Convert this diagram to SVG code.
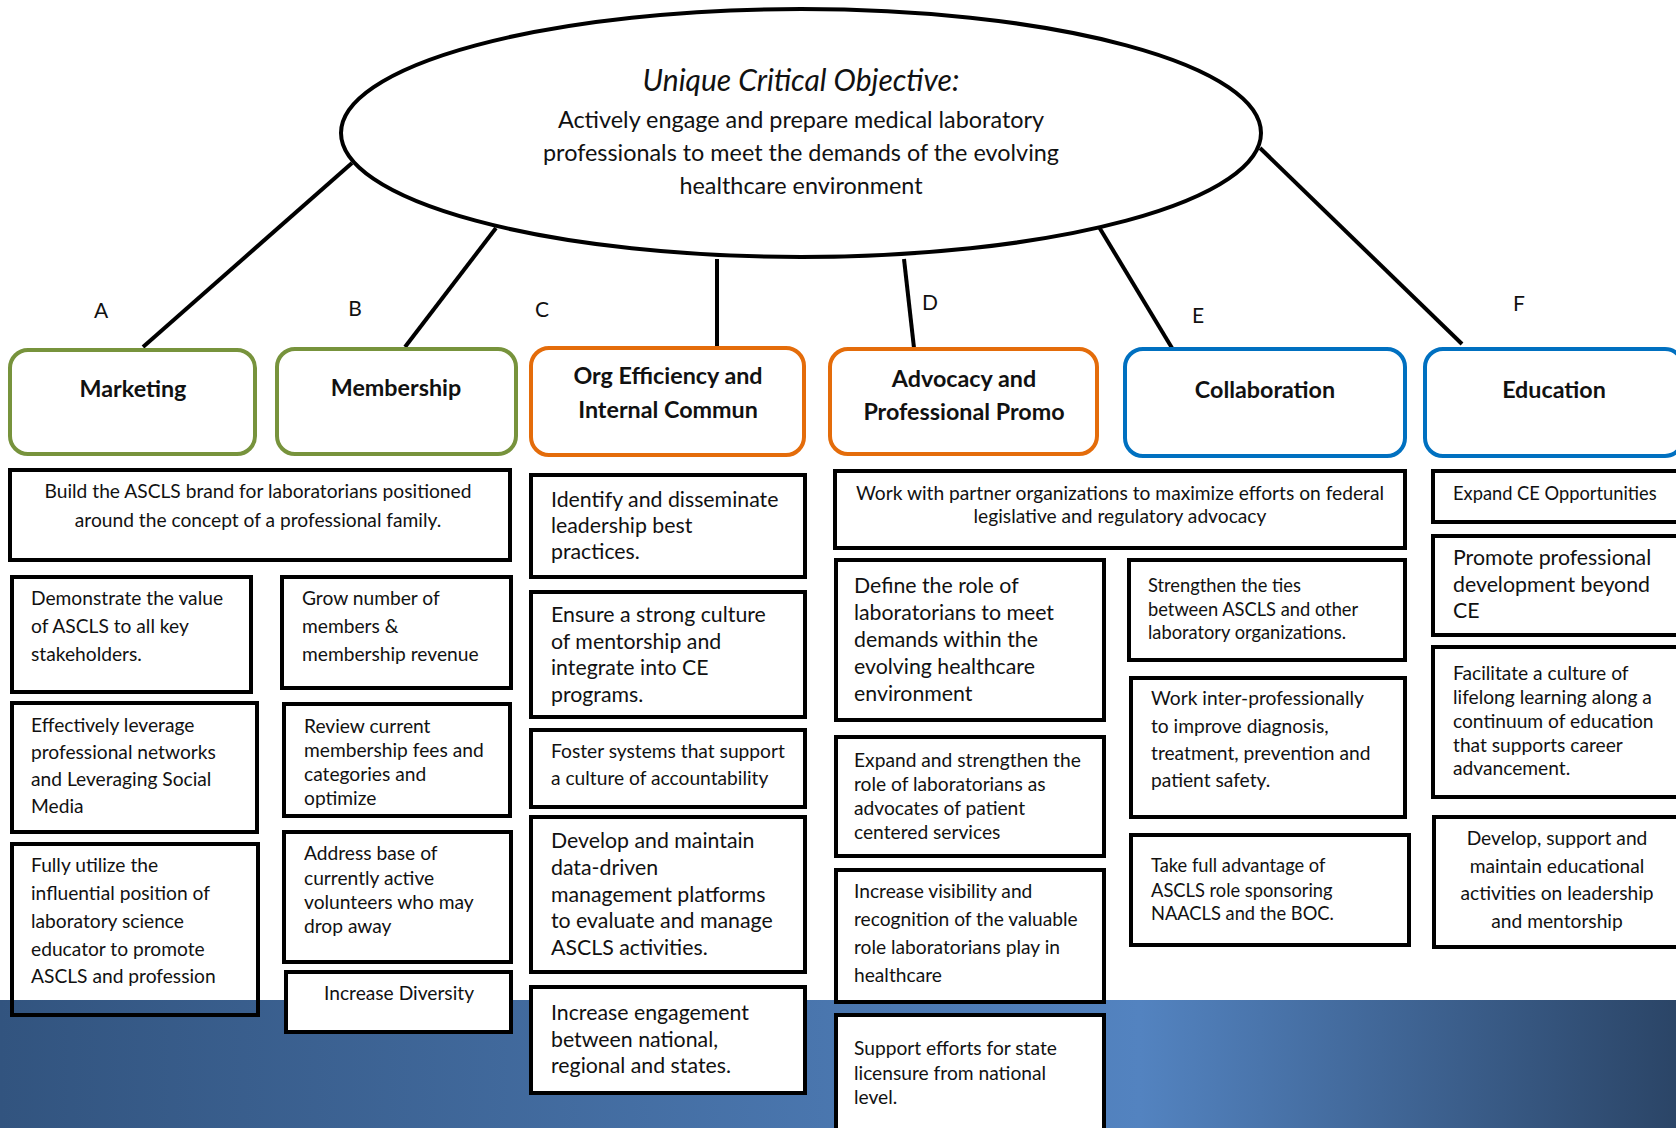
<svg xmlns="http://www.w3.org/2000/svg" width="1676" height="1128" viewBox="0 0 1676 1128">
<defs>
<linearGradient id="band" x1="0" y1="0" x2="1" y2="0">
<stop offset="0" stop-color="#32547f"/>
<stop offset="0.68" stop-color="#5383c0"/>
<stop offset="1" stop-color="#2b4567"/>
</linearGradient>
<style>
text{font-family:Lato,"Liberation Sans",sans-serif;fill:#111}
.hdr{font-size:23.3px;font-weight:bold;text-anchor:middle}
.lbl{font-size:21px;text-anchor:middle}
.t{font-size:19.2px}
.ts{font-size:18.3px}
.tc{font-size:19.2px;text-anchor:middle}
.tl{font-size:21.3px}
.box{fill:#fff;stroke:#000;stroke-width:4}
.green{fill:#fff;stroke:#77933c;stroke-width:4}
.orange{fill:#fff;stroke:#e46c0a;stroke-width:4}
.blue{fill:#fff;stroke:#0070c0;stroke-width:4}
.conn line{stroke:#000;stroke-width:4}
</style>
</defs>
<rect width="1676" height="1128" fill="#fff"/>
<rect x="0" y="1000" width="1676" height="128" fill="url(#band)"/>

<g id="objective">
<ellipse cx="801" cy="133" rx="460" ry="124" fill="#fff" stroke="#000" stroke-width="4"/>
<text x="801" y="91" style="font-size:30px;font-style:italic;text-anchor:middle">Unique Critical Objective:</text>
<text x="801" y="128" style="font-size:23.4px;text-anchor:middle">Actively engage and prepare medical laboratory</text>
<text x="801" y="161" style="font-size:23.4px;text-anchor:middle">professionals to meet the demands of the evolving</text>
<text x="801" y="194" style="font-size:23.4px;text-anchor:middle">healthcare environment</text>
</g>

<g id="connectors" class="conn">
<line x1="352" y1="163" x2="143" y2="347"/>
<line x1="496" y1="228" x2="405" y2="347"/>
<line x1="717" y1="259" x2="717" y2="347"/>
<line x1="904" y1="259" x2="914" y2="348"/>
<line x1="1099" y1="227" x2="1172" y2="348"/>
<line x1="1260" y1="148" x2="1462" y2="344"/>
</g>

<g id="labels">
<text class="lbl" x="101" y="318">A</text>
<text class="lbl" x="355" y="316">B</text>
<text class="lbl" x="542" y="317">C</text>
<text class="lbl" x="930" y="310">D</text>
<text class="lbl" x="1198" y="323">E</text>
<text class="lbl" x="1519" y="311">F</text>
</g>

<g id="marketing"><rect class="green" x="10" y="350" width="245" height="104" rx="18"/><text class="hdr" x="133" y="397">Marketing</text></g>
<g id="membership"><rect class="green" x="277" y="349" width="239" height="105" rx="18"/><text class="hdr" x="396" y="396">Membership</text></g>
<g id="org-efficiency"><rect class="orange" x="531" y="348" width="273" height="107" rx="18"/><text class="hdr" x="668" y="384">Org Efficiency and</text><text class="hdr" x="668" y="418">Internal Commun</text></g>
<g id="advocacy"><rect class="orange" x="830" y="349" width="267" height="105" rx="18"/><text class="hdr" x="964" y="387">Advocacy and</text><text class="hdr" x="964" y="420">Professional Promo</text></g>
<g id="collaboration"><rect class="blue" x="1125" y="349" width="280" height="107" rx="18"/><text class="hdr" x="1265" y="398">Collaboration</text></g>
<g id="education"><rect class="blue" x="1425" y="349" width="258" height="107" rx="18"/><text class="hdr" x="1554" y="398">Education</text></g>

<g id="build-brand"><rect class="box" x="10" y="470" width="500" height="90"/><text class="tc" x="258" y="498">Build the ASCLS brand for laboratorians positioned</text><text class="tc" x="258" y="527">around the concept of a professional family.</text></g>
<g id="demonstrate"><rect class="box" x="12" y="577" width="239" height="115"/><text class="t" x="31" y="605">Demonstrate the value</text><text class="t" x="31" y="633">of ASCLS to all key</text><text class="t" x="31" y="661">stakeholders.</text></g>
<g id="leverage"><rect class="box" x="12" y="703" width="245" height="129"/><text class="t" x="31" y="732">Effectively leverage</text><text class="t" x="31" y="759">professional networks</text><text class="t" x="31" y="786">and Leveraging Social</text><text class="t" x="31" y="813">Media</text></g>
<g id="fully-utilize"><rect x="12" y="844" width="246" height="171" fill="none" stroke="#000" stroke-width="4"/><text class="t" x="31" y="872">Fully utilize the</text><text class="t" x="31" y="900">influential position of</text><text class="t" x="31" y="928">laboratory science</text><text class="t" x="31" y="956">educator to promote</text><text class="t" x="31" y="983">ASCLS and profession</text></g>

<g id="grow"><rect class="box" x="282" y="577" width="229" height="111"/><text class="t" x="302" y="605">Grow number of</text><text class="t" x="302" y="633">members &amp;</text><text class="t" x="302" y="661">membership revenue</text></g>
<g id="review-fees"><rect class="box" x="284" y="704" width="226" height="112"/><text class="t" x="304" y="733">Review current</text><text class="t" x="304" y="757">membership fees and</text><text class="t" x="304" y="781">categories and</text><text class="t" x="304" y="805">optimize</text></g>
<g id="address-volunteers"><rect class="box" x="284" y="832" width="227" height="130"/><text class="t" x="304" y="860">Address base of</text><text class="t" x="304" y="885">currently active</text><text class="t" x="304" y="909">volunteers who may</text><text class="t" x="304" y="933">drop away</text></g>
<g id="diversity"><rect class="box" x="286" y="972" width="225" height="60"/><text class="tc" x="399" y="1000">Increase Diversity</text></g>

<g id="identify"><rect class="box" x="531" y="475" width="274" height="102"/><text class="tl" x="551" y="507">Identify and disseminate</text><text class="tl" x="551" y="533">leadership best</text><text class="tl" x="551" y="559">practices.</text></g>
<g id="mentorship"><rect class="box" x="531" y="592" width="274" height="125"/><text class="tl" x="551" y="622">Ensure a strong culture</text><text class="tl" x="551" y="649">of mentorship and</text><text class="tl" x="551" y="675">integrate into CE</text><text class="tl" x="551" y="702">programs.</text></g>
<g id="foster"><rect class="box" x="531" y="730" width="274" height="77"/><text class="t" x="551" y="758">Foster systems that support</text><text class="t" x="551" y="785">a culture of accountability</text></g>
<g id="data-driven"><rect class="box" x="531" y="817" width="274" height="155"/><text class="tl" x="551" y="848">Develop and maintain</text><text class="tl" x="551" y="875">data-driven</text><text class="tl" x="551" y="902">management platforms</text><text class="tl" x="551" y="928">to evaluate and manage</text><text class="tl" x="551" y="955">ASCLS activities.</text></g>
<g id="engagement"><rect class="box" x="531" y="987" width="274" height="106"/><text class="tl" x="551" y="1020">Increase engagement</text><text class="tl" x="551" y="1047">between national,</text><text class="tl" x="551" y="1073">regional and states.</text></g>

<g id="partner-orgs"><rect class="box" x="835" y="471" width="570" height="77"/><text class="tc" x="1120" y="500">Work with partner organizations to maximize efforts on federal</text><text class="tc" x="1120" y="523">legislative and regulatory advocacy</text></g>
<g id="define-role"><rect class="box" x="836" y="560" width="268" height="160"/><text class="tl" x="854" y="593">Define the role of</text><text class="tl" x="854" y="620">laboratorians to meet</text><text class="tl" x="854" y="647">demands within the</text><text class="tl" x="854" y="674">evolving healthcare</text><text class="tl" x="854" y="701">environment</text></g>
<g id="expand-role"><rect class="box" x="836" y="737" width="268" height="119"/><text class="t" x="854" y="767">Expand and strengthen the</text><text class="t" x="854" y="791">role of laboratorians as</text><text class="t" x="854" y="815">advocates of patient</text><text class="t" x="854" y="839">centered services</text></g>
<g id="visibility"><rect class="box" x="836" y="870" width="268" height="132"/><text class="t" x="854" y="898">Increase visibility and</text><text class="t" x="854" y="926">recognition of the valuable</text><text class="t" x="854" y="954">role laboratorians play in</text><text class="t" x="854" y="982">healthcare</text></g>
<g id="licensure"><rect class="box" x="836" y="1015" width="268" height="130"/><text class="t" x="854" y="1055">Support efforts for state</text><text class="t" x="854" y="1080">licensure from national</text><text class="t" x="854" y="1104">level.</text></g>

<g id="strengthen-ties"><rect class="box" x="1129" y="560" width="276" height="100"/><text class="ts" x="1148" y="592">Strengthen the ties</text><text class="ts" x="1148" y="616">between ASCLS and other</text><text class="ts" x="1148" y="639">laboratory organizations.</text></g>
<g id="inter-professional"><rect class="box" x="1131" y="678" width="274" height="139"/><text class="t" x="1151" y="705">Work inter-professionally</text><text class="t" x="1151" y="733">to improve diagnosis,</text><text class="t" x="1151" y="760">treatment, prevention and</text><text class="t" x="1151" y="787">patient safety.</text></g>
<g id="sponsoring"><rect class="box" x="1131" y="835" width="278" height="110"/><text class="ts" x="1151" y="872">Take full advantage of</text><text class="ts" x="1151" y="897">ASCLS role sponsoring</text><text class="ts" x="1151" y="920">NAACLS and the BOC.</text></g>

<g id="expand-ce"><rect class="box" x="1433" y="471" width="250" height="51"/><text class="ts" x="1453" y="500">Expand CE Opportunities</text></g>
<g id="prof-development"><rect class="box" x="1433" y="536" width="250" height="99"/><text class="tl" x="1453" y="565">Promote professional</text><text class="tl" x="1453" y="592">development beyond</text><text class="tl" x="1453" y="618">CE</text></g>
<g id="lifelong"><rect class="box" x="1433" y="647" width="250" height="150"/><text class="t" x="1453" y="680">Facilitate a culture of</text><text class="t" x="1453" y="704">lifelong learning along a</text><text class="t" x="1453" y="728">continuum of education</text><text class="t" x="1453" y="752">that supports career</text><text class="t" x="1453" y="775">advancement.</text></g>
<g id="leadership-ed"><rect class="box" x="1434" y="817" width="249" height="130"/><text class="tc" x="1557" y="845">Develop, support and</text><text class="tc" x="1557" y="873">maintain educational</text><text class="tc" x="1557" y="900">activities on leadership</text><text class="tc" x="1557" y="928">and mentorship</text></g>
</svg>
